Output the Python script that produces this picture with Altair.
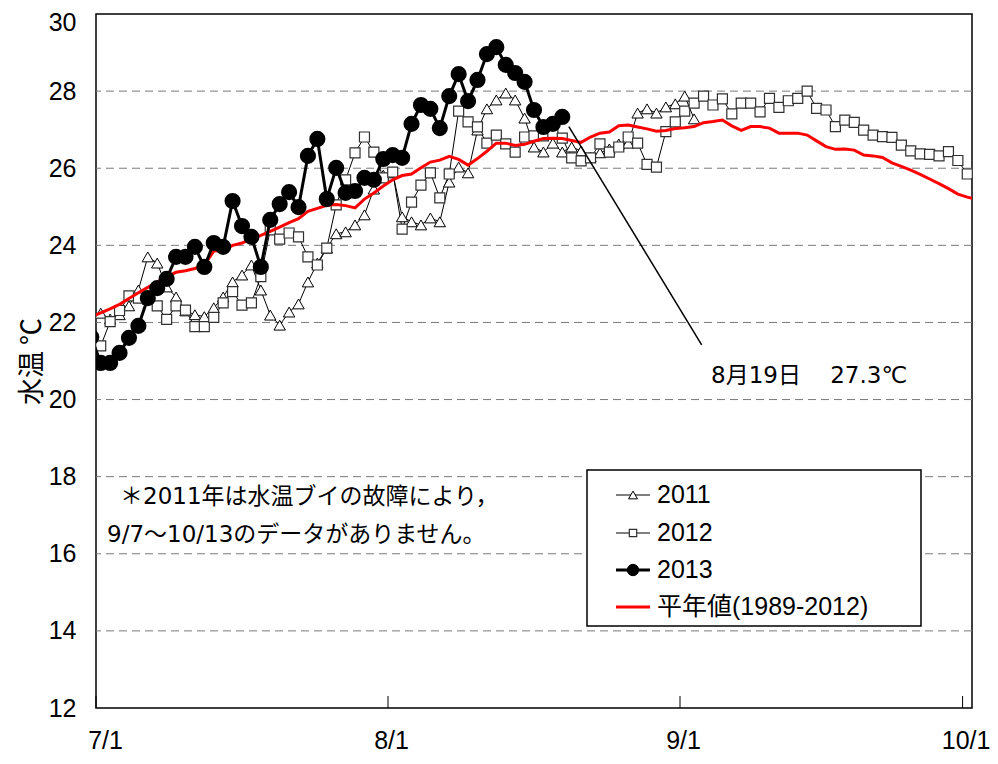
import altair as alt
import pandas as pd

# ---------------- data (day index 0 = 7/1) ----------------
tick_days = [0, 31, 62, 92]
tick_labels = ["7/1", "8/1", "9/1", "10/1"]
x_domain = [0, 93]
y_domain = [12, 30]
y_ticks = list(range(12, 31, 2))
grid_values = list(range(14, 29, 2))

series_names = ["2011", "2012", "2013", "平年値(1989-2012)"]

start_2011 = 0      # 7/1
temp_2011 = [22.24, 22.09, 22.2, 22.43, 22.84, 23.70, 23.54, 22.92, 22.66, 22.3,
             22.2, 22.15, 22.38, 22.66, 23.05, 23.23, 23.49, 22.84, 22.19, 21.93,
             22.27, 22.48, 23.05, 23.54, 23.93, 24.30, 24.35, 24.53, 24.79, 25.46,
             25.82, 25.88, 24.74, 24.61, 24.53, 24.71, 24.61, 25.64, 26.03, 25.88,
             26.99, 27.54, 27.77, 27.95, 27.77, 27.30, 26.55, 26.42, 26.65, 26.42,
             26.55, 26.45, 26.29, 26.40, 26.50, 26.63, 26.65, 27.43, 27.54, 27.43,
             27.59, 27.67, 27.87, 27.28]

start_2012 = 0      # 7/1
temp_2012 = [21.39, 22.02, 22.31, 22.69, 22.63, 22.6, 22.43, 22.08, 22.43, 22.32,
             21.89, 21.89, 22.13, 22.51, 22.80, 22.45, 22.51, 23.19, 24.40, 24.16,
             24.32, 24.22, 23.70, 23.49, 23.93, 25.05, 25.70, 26.40, 26.81, 26.42,
             25.75, 25.9, 24.42, 25.12, 25.56, 25.88, 25.23, 25.85, 27.48, 27.2,
             27.07, 26.65, 26.86, 26.63, 26.42, 26.81, 26.84, 26.84, 26.91, 26.78,
             26.27, 26.19, 26.27, 26.63, 26.42, 26.55, 26.81, 26.65, 26.10, 26.03,
             26.95, 27.2, 27.48, 27.69, 27.87, 27.64, 27.8, 27.41, 27.69, 27.69,
             27.46, 27.81, 27.58, 27.75, 27.81, 28.0, 27.55, 27.51, 27.08, 27.25,
             27.19, 26.99, 26.86, 26.82, 26.8, 26.6, 26.45, 26.37, 26.36, 26.32,
             26.43, 26.2, 25.85, 25.6]

start_2013 = -1     # 6/30
temp_2013 = [21.62,
             20.95, 20.95, 21.21, 21.60, 21.91, 22.63, 22.89, 23.13, 23.70, 23.70,
             23.96, 23.44, 24.06, 23.96, 25.15, 24.50, 24.22, 23.44, 24.66, 25.07,
             25.38, 24.99, 26.32, 26.76, 25.20, 26.01, 25.36, 25.41, 25.75, 25.70,
             26.24, 26.34, 26.27, 27.15, 27.64, 27.54, 27.04, 27.87, 28.44, 27.74,
             28.29, 28.96, 29.14, 28.68, 28.47, 28.24, 27.51, 27.07, 27.15, 27.33]

start_normal = -1   # 6/30
temp_normal = [22.14,
               22.25, 22.35, 22.47, 22.62, 22.77, 22.91, 23.05, 23.19, 23.30, 23.34,
               23.40, 23.49, 23.85, 23.87, 24.00, 24.06, 24.17, 24.26, 24.36, 24.47,
               24.59, 24.69, 24.88, 24.96, 25.04, 25.06, 25.03, 24.97, 25.20, 25.36,
               25.54, 25.70, 25.81, 25.85, 26.01, 26.16, 26.21, 26.31, 26.23, 26.08,
               26.25, 26.44, 26.65, 26.65, 26.59, 26.62, 26.70, 26.77, 26.78, 26.77,
               26.72, 26.67, 26.81, 26.91, 26.94, 27.10, 27.12, 27.07, 27.02, 26.96,
               26.98, 27.03, 27.05, 27.08, 27.18, 27.21, 27.25, 27.10, 26.98, 27.08,
               27.08, 27.04, 26.91, 26.91, 26.91, 26.86, 26.71, 26.56, 26.49, 26.50,
               26.47, 26.34, 26.32, 26.28, 26.14, 26.05, 25.95, 25.84, 25.72, 25.60,
               25.47, 25.33, 25.25, 25.19]

callout_date_label = "8月19日"
callout_end = (64.3, 21.42)      # where the leader line meets the label
callout_text_pos = (65.3, 20.62)

note_lines = ["＊2011年は水温ブイの故障により，", "9/7～10/13のデータがありません。"]


def frame(values, start, name):
    return pd.DataFrame({
        "day": [start + i + 0.5 for i in range(len(values))],
        "temp": values,
        "series": name,
    })


df11 = frame(temp_2011, start_2011, series_names[0])
df12 = frame(temp_2012, start_2012, series_names[1])
df13 = frame(temp_2013, start_2013, series_names[2])
dfn = frame(temp_normal, start_normal, series_names[3])

# ---------------- styling ----------------
W, H = 876, 694
NUM_FONT = "Liberation Sans, Arial, sans-serif"
LEG_FONT = "Liberation Sans, Noto Sans CJK JP, sans-serif"
TXT_FONT = "DejaVu Sans, Noto Sans CJK JP, sans-serif"
JP_FONT = "Noto Sans CJK JP, sans-serif"

label_expr = " : ".join(
    f"datum.value == {d} ? '{l}'" for d, l in zip(tick_days[:-1], tick_labels[:-1])
) + f" : '{tick_labels[-1]}'"

xscale = alt.Scale(domain=x_domain, nice=False, zero=False)
yscale = alt.Scale(domain=y_domain, nice=False, zero=False)
xaxis = alt.Axis(values=tick_days, labelExpr=label_expr, grid=False, ticks=False,
                 tickSize=0, domain=False, labelFontSize=25, labelPadding=20,
                 labelFlush=False, labelColor="black", labelFont=NUM_FONT,
                 labelOffset=alt.condition(f"datum.value == {tick_days[0]}",
                                           alt.value(9), alt.value(3)),
                 title=None)
yaxis = alt.Axis(values=y_ticks, grid=False, ticks=False, tickSize=0, domain=False,
                 labelFontSize=25, labelPadding=20, labelColor="black",
                 labelFont=NUM_FONT, labelFlush=False,
                 labelOffset=alt.condition(f"datum.value == {y_domain[1]}",
                                           alt.value(8), alt.value(0)),
                 title="水温 ℃", titleFont=JP_FONT,
                 titleFontSize=27, titleFontWeight="normal", titleColor="black",
                 titleAngle=270, titleX=-64, titleY=H / 2, titleAlign="center",
                 titleBaseline="middle")


def X(field):
    return alt.X(field, scale=xscale, axis=xaxis)


def Y(field):
    return alt.Y(field, scale=yscale, axis=yaxis)


grid = alt.Chart(pd.DataFrame({"g": grid_values})).mark_rule(
    stroke="#7a7a7a", strokeDash=[8, 5], strokeWidth=1
).encode(y=Y("g:Q"))

xticks = alt.Chart(pd.DataFrame({"t": tick_days})).mark_rule(
    color="black", strokeWidth=1
).encode(x=X("t:Q"), y=alt.value(H), y2=alt.value(H - 12))

line11 = alt.Chart(df11).mark_line(color="black", strokeWidth=1, clip=True).encode(
    x=X("day:Q"), y=Y("temp:Q"))
pts11 = alt.Chart(df11).mark_point(shape="triangle-up", size=130, filled=True,
                                   fill="white", stroke="black", strokeWidth=1,
                                   opacity=1, clip=True).encode(
    x=X("day:Q"), y=Y("temp:Q"))

line12 = alt.Chart(df12).mark_line(color="black", strokeWidth=1, clip=True).encode(
    x=X("day:Q"), y=Y("temp:Q"))
pts12 = alt.Chart(df12).mark_point(shape="square", size=100, filled=True,
                                   fill="white", stroke="#303030", strokeWidth=1.2,
                                   opacity=1, clip=True).encode(
    x=X("day:Q"), y=Y("temp:Q"))

linen = alt.Chart(dfn).mark_line(color="#ff0000", strokeWidth=3, clip=True).encode(
    x=X("day:Q"), y=Y("temp:Q"))

line13 = alt.Chart(df13).mark_line(color="black", strokeWidth=3, clip=True).encode(
    x=X("day:Q"), y=Y("temp:Q"))
pts13 = alt.Chart(df13).mark_point(shape="circle", size=200, filled=True,
                                   fill="black", stroke="black", opacity=1,
                                   clip=True).encode(
    x=X("day:Q"), y=Y("temp:Q"))

# callout for the last 2013 value
last_day = df13["day"].iloc[-1]
last_temp = df13["temp"].iloc[-1]
callout_df = pd.DataFrame({
    "x": [last_day + 0.7], "y": [last_temp - 0.25],
    "x2": [callout_end[0]], "y2": [callout_end[1]],
})
callout = alt.Chart(callout_df).mark_rule(color="black", strokeWidth=1.5).encode(
    x=X("x:Q"), y=Y("y:Q"), x2="x2:Q", y2="y2:Q")
gap = "\u00a0" * 4
callout_label = alt.Chart(pd.DataFrame({
    "x": [callout_text_pos[0]], "y": [callout_text_pos[1]],
    "t": [f"{callout_date_label}{gap}{last_temp:.1f}℃"],
})).mark_text(align="left", baseline="middle", fontSize=23, font=TXT_FONT,
              color="black").encode(x=X("x:Q"), y=Y("y:Q"), text="t:N")

# note text
note_layers = []
for i, (txt, xx) in enumerate(zip(note_lines, [24, 11])):
    note_layers.append(
        alt.Chart(pd.DataFrame({"t": [txt]})).mark_text(
            align="left", baseline="middle", fontSize=23, font=TXT_FONT, color="black"
        ).encode(x=alt.value(xx), y=alt.value(483 + 38 * i), text="t:N"))

# legend (drawn by hand)
LX0, LX1, LY0, LY1 = 491, 825, 456, 612
legend_box = alt.Chart(pd.DataFrame({"a": [0]})).mark_rect(
    fill="white", stroke="black", strokeWidth=1.5
).encode(x=alt.value(LX0), x2=alt.value(LX1), y=alt.value(LY0), y2=alt.value(LY1))

legend_layers = [legend_box]
row_y = [481, 519, 556, 593]
line_styles = [("black", 1), ("black", 1), ("black", 3), ("#ff0000", 3)]
marker_styles = [
    dict(shape="triangle-up", size=80, fill="white", stroke="black", strokeWidth=1),
    dict(shape="square", size=55, fill="white", stroke="#303030", strokeWidth=1.2),
    dict(shape="circle", size=130, fill="black", stroke="black", strokeWidth=1),
    None,
]
for name, ry, (lc, lw), ms in zip(series_names, row_y, line_styles, marker_styles):
    one = pd.DataFrame({"t": [name]})
    legend_layers.append(alt.Chart(one).mark_rule(color=lc, strokeWidth=lw).encode(
        x=alt.value(520), x2=alt.value(554), y=alt.value(ry)))
    if ms is not None:
        legend_layers.append(alt.Chart(one).mark_point(filled=True, opacity=1, **ms).encode(
            x=alt.value(537), y=alt.value(ry)))
    legend_layers.append(alt.Chart(one).mark_text(
        align="left", baseline="middle", fontSize=25, font=LEG_FONT, color="black"
    ).encode(x=alt.value(561), y=alt.value(ry), text="t:N"))

chart = alt.layer(
    grid, xticks, line11, line12, pts11, pts12, linen, line13, pts13,
    callout, callout_label, *note_layers, *legend_layers
).properties(
    width=W, height=H,
    padding={"left": 88, "top": 6, "right": 18, "bottom": 48},
    autosize=alt.AutoSizeParams(type="none"),
).configure_view(stroke="black", strokeWidth=1.5)

chart.save("out.html", embed_options={"renderer": "svg", "actions": False})
